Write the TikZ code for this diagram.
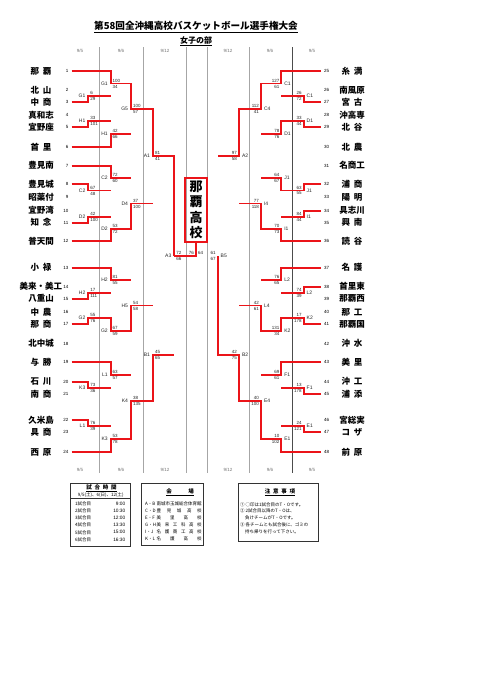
\documentclass[tikz,border=0pt]{standalone}
\usepackage{fontspec}
\setmainfont{Noto Sans CJK JP}
\newfontfamily\arial{Liberation Sans}
\pgfdeclarelayer{fondo}
\pgfsetlayers{fondo,main}
\definecolor{rojo}{RGB}{235,20,25}
\tikzset{
  ganador/.style={draw=rojo, line width=1.8pt},
  perdedor/.style={draw=black!80, line width=0.7pt},
  separador/.style={draw=black!35, line width=0.5pt},
  titulo/.style={font=\bfseries\fontsize{9.6}{11}\selectfont, inner sep=0pt},
  equipo/.style={font=\bfseries\fontsize{8.5}{9}\selectfont, inner sep=0pt},
  numero/.style={font=\arial\fontsize{4.5}{5}\selectfont, inner sep=0.5pt},
  etiqueta/.style={font=\arial\fontsize{5}{5}\selectfont, inner sep=0.3pt, text=black!85},
  marcador/.style={font=\arial\fontsize{4.5}{4.5}\selectfont, inner sep=0.3pt, text=black!85},
  fecha/.style={font=\arial\fontsize{4.5}{5}\selectfont, text=black!55, inner sep=0pt},
  campeon/.style={draw=rojo, line width=1.5pt, minimum width=22pt, minimum height=64pt,
    inner sep=0pt, align=center, font=\bfseries\fontsize{13}{15.5}\selectfont},
  caja/.style={draw=black!80, line width=0.6pt},
  cabecera/.style={font=\bfseries\fontsize{5.5}{6}\selectfont, inner sep=0.5pt},
  texto/.style={font=\fontsize{4.5}{5}\selectfont, inner sep=0pt},
}
\newcommand\dos[2]{#1\hspace{.45em}#2}

% partido izquierdo: nombre, x, y, x siguiente, ganador, perdedor, etiqueta, tanteo arriba, tanteo abajo
\newcommand\partidoI[9]{%
  \coordinate (#1) at (#2,#3);
  \begin{pgfonlayer}{fondo}\draw[perdedor] (#6) -| (#1);\end{pgfonlayer}
  \draw[ganador] (#5) -| (#1) -- (#4,#3);
  \node[etiqueta, anchor=east] (#1-l) at ([xshift=-2.5pt]#1) {#7};
  \node[marcador, anchor=south west] (#1-a) at ([xshift=1.5pt,yshift=0.9pt]#1) {#8};
  \node[marcador, anchor=north west] (#1-b) at ([xshift=1.5pt,yshift=-0.9pt]#1) {#9};
}
% partido derecho
\newcommand\partidoD[9]{%
  \coordinate (#1) at (#2,#3);
  \begin{pgfonlayer}{fondo}\draw[perdedor] (#6) -| (#1);\end{pgfonlayer}
  \draw[ganador] (#5) -| (#1) -- (#4,#3);
  \node[etiqueta, anchor=west] (#1-l) at ([xshift=2.5pt]#1) {#7};
  \node[marcador, anchor=south east] (#1-a) at ([xshift=-1.5pt,yshift=0.9pt]#1) {#8};
  \node[marcador, anchor=north east] (#1-b) at ([xshift=-1.5pt,yshift=-0.9pt]#1) {#9};
}

\begin{document}
\begin{tikzpicture}[x=1pt, y=-1pt]
  \useasboundingbox (0,0) rectangle (481,680);
  \fill[white] (0,0) rectangle (481,680);

  % Titulo
  \node[titulo] (titulo) at (196,27) {\underline{第58回全沖縄高校バスケットボール選手権大会}};
  \node[titulo, font=\bfseries\fontsize{8}{9}\selectfont] (sub) at (196,41) {\underline{女子の部}};

  % Columnas y fechas
  \foreach \x in {99,143,186,207,249}
    \draw[separador] (\x,47) -- (\x,473);
  \draw[separador, draw=black!70] (292,47) -- (292,473);
  \foreach \y/\k in {51/a,470/b} {
    \node[fecha] (f1\k) at (80,\y) {9/5};
    \node[fecha] (f2\k) at (121,\y) {9/6};
    \node[fecha] (f3\k) at (165,\y) {9/12};
    \node[fecha] (f4\k) at (228,\y) {9/12};
    \node[fecha] (f5\k) at (270,\y) {9/6};
    \node[fecha] (f6\k) at (312,\y) {9/5};
  }

  % Equipos
  \foreach \n/\y/\nombre in {1/71/\dos{那}{覇}, 2/90/\dos{北}{山}, 3/102/\dos{中}{商},
      4/115/真和志, 5/127/宜野座, 6/147/\dos{首}{里}, 7/165.7/豊見南, 8/184/豊見城,
      9/197/昭薬付, 10/210.7/宜野湾, 11/222.7/\dos{知}{念}, 12/241/普天間,
      13/267.7/\dos{小}{禄}, 14/286.7/美来・美工, 15/298.7/八重山, 16/312/\dos{中}{農},
      17/324/\dos{那}{商}, 18/343.7/北中城, 19/362/\dos{与}{勝}, 20/381.7/\dos{石}{川},
      21/394/\dos{南}{商}, 22/420/久米島, 23/432/\dos{具}{商}, 24/452/\dos{西}{原}} {
    \node[equipo] (t\n) at (41,\y) {\nombre};
    \node[numero, anchor=east] (n\n) at (69,\y) {\n};
    \coordinate (s\n) at (71.5,\y);
  }
  \foreach \n/\y/\nombre in {25/71/\dos{糸}{満}, 26/90/南風原, 27/102/\dos{宮}{古},
      28/115/沖高専, 29/127/\dos{北}{谷}, 30/147/\dos{北}{農}, 31/165.7/名商工,
      32/184/\dos{浦}{商}, 33/197/\dos{陽}{明}, 34/210.7/具志川, 35/222.7/\dos{興}{南},
      36/241/\dos{読}{谷}, 37/267.7/\dos{名}{護}, 38/286.7/首里東, 39/298.7/那覇西,
      40/312/\dos{那}{工}, 41/324/那覇国, 42/343.7/\dos{沖}{水}, 43/362/\dos{美}{里},
      44/381.7/\dos{沖}{工}, 45/394/\dos{浦}{添}, 46/420/宮総実, 47/432/\dos{コ}{ザ},
      48/452/\dos{前}{原}} {
    \node[equipo] (t\n) at (352,\y) {\nombre};
    \node[numero, anchor=west] (n\n) at (323.5,\y) {\n};
    \coordinate (s\n) at (321,\y);
  }

  % Cuadro izquierdo
  \partidoI{g1a}{88.3}{96}{110.7}{s3}{s2}{G1}{6}{29}
  \partidoI{h1a}{88.3}{121}{110.7}{s5}{s4}{H1}{33}{101}
  \partidoI{g1b}{110.7}{83.5}{131}{s1}{g1a}{G1}{100}{34}
  \partidoI{h1b}{110.7}{134}{131}{s6}{h1a}{H1}{42}{66}
  \partidoI{g5}{131}{109}{153}{g1b}{h1b}{G5}{100}{57}
  \partidoI{c2a}{88.3}{190.5}{110.7}{s8}{s9}{C2}{67}{48}
  \partidoI{d2a}{88.3}{216.7}{110.7}{s11}{s10}{D2}{42}{100}
  \partidoI{c2b}{110.7}{178}{131}{s7}{c2a}{C2}{72}{60}
  \partidoI{d2b}{110.7}{229}{131}{s12}{d2a}{D2}{53}{72}
  \partidoI{d4}{131}{203.5}{153}{d2b}{c2b}{D4}{37}{100}
  \partidoI{a1}{153}{156}{174.3}{g5}{d4}{A1}{81}{41}
  \partidoI{h2a}{88.3}{292.7}{110.7}{s15}{s14}{H2}{17}{111}
  \partidoI{g2a}{88.3}{318}{110.7}{s17}{s16}{G2}{55}{76}
  \partidoI{h2b}{110.7}{280}{131}{s13}{h2a}{H2}{81}{55}
  \partidoI{g2b}{110.7}{331}{131}{g2a}{s18}{G2}{67}{59}
  \partidoI{h5}{131}{305.5}{153}{g2b}{h2b}{H5}{54}{58}
  \partidoI{k3a}{88.3}{388}{110.7}{s20}{s21}{K3}{73}{36}
  \partidoI{l1a}{88.3}{426}{110.7}{s22}{s23}{L1}{76}{39}
  \partidoI{l1b}{110.7}{375}{131}{s19}{k3a}{L1}{63}{57}
  \partidoI{k3b}{110.7}{439}{131}{s24}{l1a}{K3}{53}{78}
  \partidoI{k4}{131}{401}{153}{k3b}{l1b}{K4}{38}{135}
  \partidoI{b1}{153}{355}{174.3}{k4}{h5}{B1}{45}{65}
  \partidoI{a3}{174.3}{256}{174.3}{a1}{b1}{A3}{72}{66}

  % Cuadro derecho
  \partidoD{c1a}{303.7}{96}{281.3}{s27}{s26}{C1}{26}{72}
  \partidoD{d1a}{303.7}{121}{281.3}{s29}{s28}{D1}{33}{44}
  \partidoD{c1b}{281.3}{83.5}{261}{s25}{c1a}{C1}{127}{61}
  \partidoD{d1b}{281.3}{134}{261}{d1a}{s30}{D1}{78}{76}
  \partidoD{c4}{261}{109}{239}{c1b}{d1b}{C4}{112}{41}
  \partidoD{j1a}{303.7}{190.5}{281.3}{s32}{s33}{J1}{63}{55}
  \partidoD{i1a}{303.7}{216.7}{281.3}{s34}{s35}{I1}{84}{44}
  \partidoD{j1b}{281.3}{178}{261}{j1a}{s31}{J1}{64}{67}
  \partidoD{i1b}{281.3}{229}{261}{s36}{i1a}{I1}{70}{73}
  \partidoD{i4}{261}{203.5}{239}{i1b}{j1b}{I4}{77}{118}
  \partidoD{a2}{239}{156}{217.7}{c4}{i4}{A2}{97}{58}
  \partidoD{l2a}{303.7}{292.7}{281.3}{s38}{s39}{L2}{74}{39}
  \partidoD{k2a}{303.7}{318}{281.3}{s41}{s40}{K2}{17}{178}
  \partidoD{l2b}{281.3}{280}{261}{s37}{l2a}{L2}{76}{65}
  \partidoD{k2b}{281.3}{331}{261}{k2a}{s42}{K2}{131}{34}
  \partidoD{l4}{261}{305.5}{239}{k2b}{l2b}{L4}{42}{61}
  \partidoD{f1a}{303.7}{388}{281.3}{s45}{s44}{F1}{13}{178}
  \partidoD{e1a}{303.7}{426}{281.3}{s47}{s46}{E1}{24}{121}
  \partidoD{f1b}{281.3}{375}{261}{s43}{f1a}{F1}{69}{61}
  \partidoD{e1b}{281.3}{439}{261}{s48}{e1a}{E1}{10}{102}
  \partidoD{e4}{261}{401}{239}{e1b}{f1b}{E4}{40}{100}
  \partidoD{b2}{239}{355}{217.7}{e4}{l4}{B2}{42}{75}
  \partidoD{b5}{217.7}{256}{217.7}{b2}{a2}{B5}{61}{67}

  % Final y campeon
  \node[campeon] (campeon) at (196,210) {那\\覇\\高\\校};
  \coordinate (final) at (196,256);
  \begin{pgfonlayer}{fondo}\draw[perdedor] (b5) -- (final);\end{pgfonlayer}
  \draw[ganador] (a3) -- (final) -- (campeon.south);
  \node[marcador, anchor=south east] (fa) at ([xshift=-1.5pt,yshift=0.9pt]final) {76};
  \node[marcador, anchor=south west] (fb) at ([xshift=1.5pt,yshift=0.9pt]final) {64};

  % Tabla: horario
  \draw[caja] (70.7,483.3) rectangle (130.7,546);
  \node[cabecera] (h0) at (101.5,488) {\underline{試\hspace{.5em}合\hspace{.5em}時\hspace{.5em}間}};
  \node[texto] (h00) at (100.7,495) {9/5(土)、6(日)、12(土)};
  \draw[caja, line width=0.4pt] (70.7,498.5) -- (130.7,498.5);
  \foreach \i/\h in {1/9:00, 2/10:30, 3/12:00, 4/13:30, 5/15:00, 6/16:30} {
    \node[texto, anchor=west] (hi\i) at (75,{503.5+7.2*(\i-1)}) {\i 試合目};
    \node[texto, anchor=east, font=\arial\fontsize{4.8}{5}\selectfont] (hh\i) at (125.5,{503.5+7.2*(\i-1)}) {\h};
  }

  % Tabla: sedes
  \draw[caja] (141.7,483.3) rectangle (203.3,545);
  \node[cabecera] (v0) at (180,492) {\underline{会\hspace{3em}場}};
  \foreach \i/\c/\s in {1/A・B/南城市玉城総合体育館, 2/C・D/豊\hfill 見\hfill 城\hfill 高\hfill 校,
      3/E・F/美\hfill 里\hfill 高\hfill 校, 4/G・H/美\hfill 来\hfill 工\hfill 科\hfill 高\hfill 校,
      5/I・J/名\hfill 護\hfill 商\hfill 工\hfill 高\hfill 校, 6/K・L/名\hfill 護\hfill 高\hfill 校} {
    \node[texto, anchor=west] (vc\i) at (145,{504+7*(\i-1)}) {\c};
    \node[texto, anchor=west] (vs\i) at (156.5,{504+7*(\i-1)}) {\makebox[45pt][s]{\s}};
  }

  % Tabla: avisos
  \draw[caja] (238.3,483.3) rectangle (318.3,541);
  \node[cabecera] (n0) at (280,492) {\underline{注\hspace{.5em}意\hspace{.5em}事\hspace{.5em}項}};
  \node[texto, anchor=west] (n1l) at (240,504.3) {① ○印は1試合目のT・Oです。};
  \node[texto, anchor=west] (n2l) at (240,510.8) {② 2試合目以降のT・Oは、};
  \node[texto, anchor=west] (n3l) at (245,517.5) {負けチームがT・Oです。};
  \node[texto, anchor=west] (n4l) at (240,525) {③ 各チームとも試合後に、ゴミの};
  \node[texto, anchor=west] (n5l) at (245,531.7) {持ち帰りを行って下さい。};
\end{tikzpicture}
\end{document}
